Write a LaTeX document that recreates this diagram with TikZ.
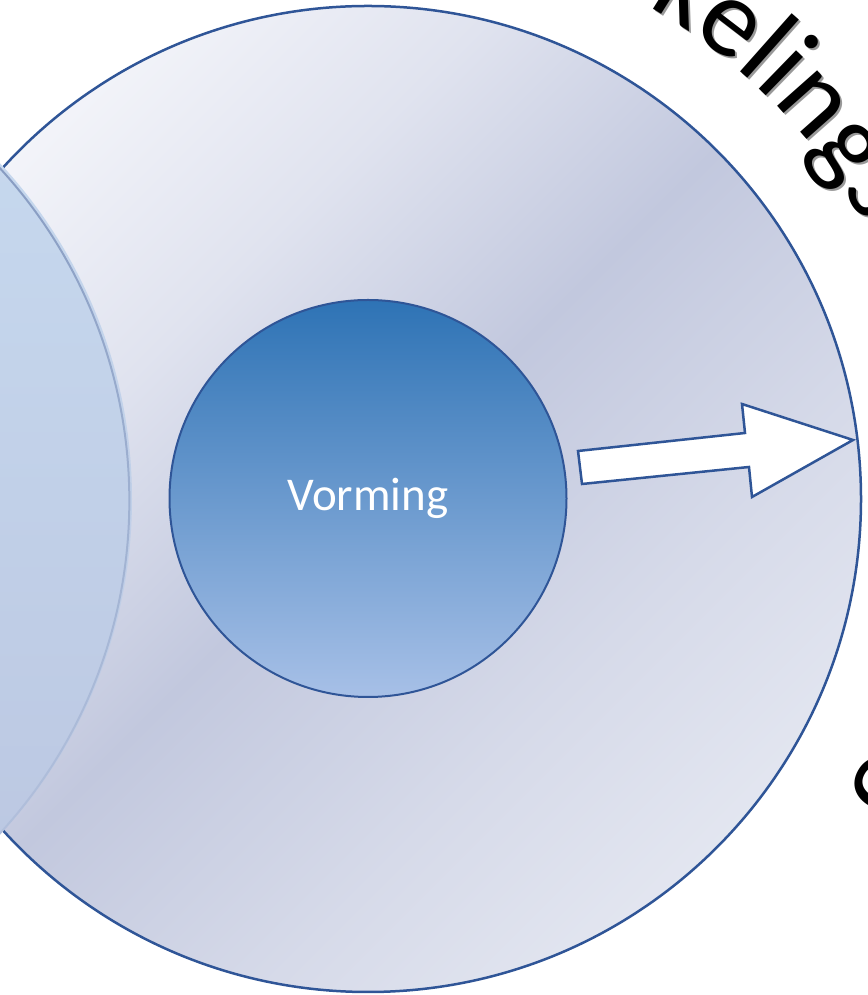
\documentclass[tikz,border=0pt]{standalone}
\usepackage{fontspec}
\setmainfont{Carlito}
\newfontfamily\arcfam{Carlito}
\newcommand\arcfont{\arcfam\fontsize{112}{112}\selectfont}
\usetikzlibrary{fadings}
\usetikzlibrary{decorations.text}

\definecolor{rimblue}{HTML}{2F5597}
\definecolor{ringa}{HTML}{FAFBFD}
\definecolor{ringb}{HTML}{F4F5FA}
\definecolor{ringc}{HTML}{E0E3EF}
\definecolor{ringband}{HTML}{C2C8DE}
\definecolor{ringd}{HTML}{D6DAE9}
\definecolor{ringe}{HTML}{E6E9F2}
\definecolor{ringf}{HTML}{F0F2F8}
\definecolor{lefttop}{HTML}{C8DBF0}
\definecolor{leftbot}{HTML}{BAC5E0}
\definecolor{lefttrim}{HTML}{7C91BA}
\definecolor{coretop}{HTML}{2E73B5}
\definecolor{corebot}{HTML}{A7C0E7}

\pgfdeclarehorizontalshading{ringshade}{100bp}{color(0bp)=(ringa); color(24bp)=(ringb);
  color(37bp)=(ringc); color(50bp)=(ringband); color(64bp)=(ringd); color(78bp)=(ringe);
  color(100bp)=(ringf)}

\tikzset{
  disc/.style={circle, inner sep=0pt, minimum size=#1},
  ringtext/.style={decorate, decoration={text along path, text align=left, text={#1}}}
}

\begin{document}
\begin{tikzpicture}[x=1pt,y=1pt]
  \useasboundingbox (0,0) rectangle (867,995);
  \clip (0,0) rectangle (867,995);

  \coordinate (c) at (368,496);
  \coordinate (l) at (-361,496);

  % big ring
  \node[disc=986pt, shading=ringshade, shading angle=-45, draw=rimblue, line width=2.5pt] (ring) at (c) {};

  % left circle, cut off by the page
  \node[disc=986pt, top color=lefttop, bottom color=leftbot] (left) at (l) {};
  \draw[lefttrim, line width=2pt, path fading=south] (l) circle[radius=493];

  % inner circle
  \node[disc=397pt, top color=coretop, bottom color=corebot, draw=rimblue, line width=2pt,
        text=white, font=\fontsize{47}{47}\selectfont] (core) at (368,496.5) {Vorming};

  % block arrow
  \draw[rimblue, fill=white, line width=2.5pt, line join=miter]
    (578,544) -- (745,562) -- (742,591) -- (853,555) -- (752,498) -- (749,528) -- (582,511) -- cycle;

  % curved title, shadow first
  \path[ringtext={|\color{black!40}\arcfont|kelings}]
    ([shift={(60.5:567)}]c) ++(2,-2) arc[start angle=60.5, end angle=0, radius=567];
  \path[ringtext={|\arcfont|kelings}]
    ([shift={(60.5:567)}]c) arc[start angle=60.5, end angle=0, radius=567];

  \node[font=\arcfont, rotate=-119, anchor=base, inner sep=0pt] (frag) at ([shift={(-29:562)}]c) {o};

\end{tikzpicture}
\end{document}
